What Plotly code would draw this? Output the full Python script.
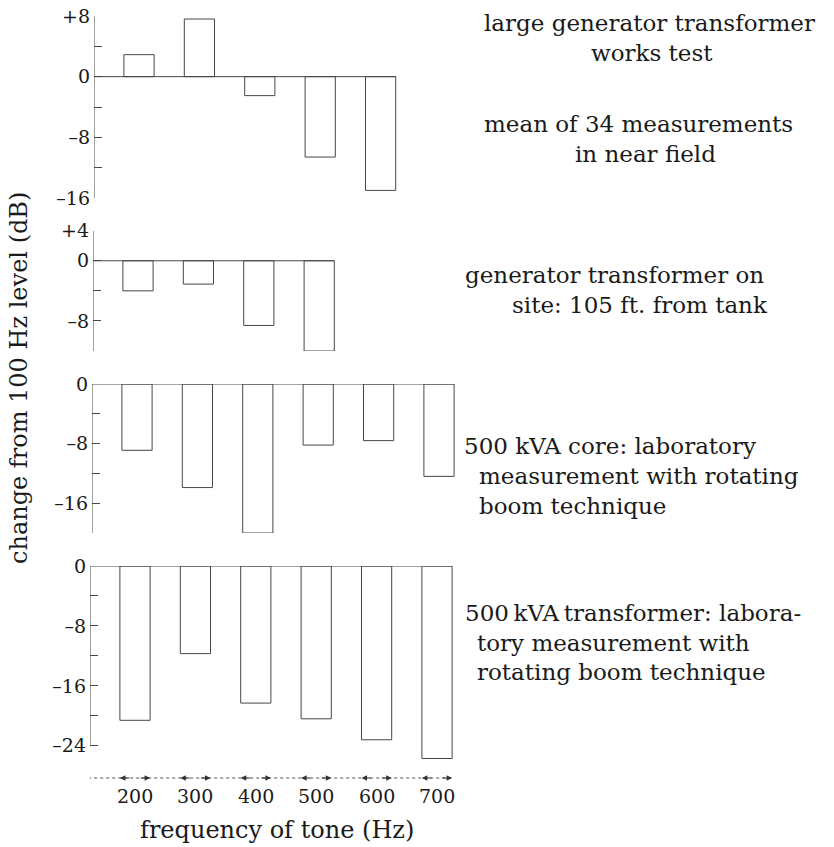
import plotly.graph_objects as go

# Tone frequencies and their labels (Hz)
freqs = [200, 300, 400, 500, 600, 700]
freq_labels = ["200", "300", "400", "500", "600", "700"]

# Change from the 100 Hz level (dB) for each test
works_test = [2.9, 7.6, -2.5, -10.6, -15.0]            # 200-600 Hz
on_site = [-4.0, -3.1, -8.6, -12.0]                    # 200-500 Hz
core_lab = [-8.9, -13.9, -20.0, -8.2, -7.6, -12.4]
transformer_lab = [-20.6, -11.7, -18.3, -20.4, -23.2, -25.7]

# Labelled values on each panel's dB scale (ticks every 4 dB)
labels_1 = [8, 0, -8, -16]
labels_2 = [4, 0, -8]
labels_3 = [0, -8, -16]
labels_4 = [0, -8, -16, -24]

# Caption lines beside each panel
captions_1 = ["large generator transformer", "works test"]
captions_2 = ["mean of 34 measurements", "in near field"]
captions_3 = ["generator transformer on", "site: 105 ft. from tank"]
captions_4 = ["500 kVA core: laboratory", "measurement with rotating", "boom technique"]
captions_5 = ["500\u2009kVA\u2009transformer: labora-", "tory measurement with", "rotating boom technique"]

y_title = "change from 100 Hz level (dB)"
x_title = "frequency of tone (Hz)"

# ---------------------------------------------------------------- layout helpers
W, H = 834, 847
FONT = "DejaVu Serif"
INK = "#1a1a1a"
LINE = "#474747"


def px(x):
    return x / W


def py(y):
    return 1 - y / H


PX_PER_HZ = 0.604
X_MIN = 125.5
PLOT_W = 370
X_MAX = X_MIN + PLOT_W / PX_PER_HZ
BAR_W = 50

# spine: extent of each value axis; view: extent kept visible
panels = [
    dict(values=works_test, labels=labels_1, spine=(-16, 8), view=(-16, 8), top=16, bottom=198, left=94),
    dict(values=on_site, labels=labels_2, spine=(-12, 4), view=(-12, 4), top=230.7, bottom=351, left=93),
    dict(values=core_lab, labels=labels_3, spine=(-20, 0), view=(-20, 0), top=384, bottom=533, left=92),
    dict(values=transformer_lab, labels=labels_4, spine=(-24, 0), view=(-26.5, 0), top=566, bottom=764.5, left=90),
]


def tick_text(v, labelled):
    if v not in labelled:
        return ""
    if v > 0:
        return f"+{v}"
    if v < 0:
        return f"\u2013{abs(v)}"
    return "0"


fig = go.Figure()
layout = dict(
    width=W, height=H, autosize=False,
    margin=dict(l=0, r=0, t=0, b=0, pad=0, autoexpand=False),
    paper_bgcolor="white", plot_bgcolor="rgba(0,0,0,0)",
    showlegend=False,
    font=dict(family=FONT, color=INK),
)

for i, p in enumerate(panels, start=1):
    xs = freqs[: len(p["values"])]
    xa = "x" if i == 1 else f"x{i}"
    ya = "y" if i == 1 else f"y{i}"
    lo, hi = p["spine"]
    fig.add_trace(go.Bar(
        x=xs, y=p["values"], width=BAR_W, base=0,
        marker=dict(color="white", line=dict(color=LINE, width=1)),
        xaxis=xa, yaxis=ya, hoverinfo="skip",
    ))
    # zero reference running out to the last bar
    fig.add_trace(go.Scatter(
        x=[X_MIN, max(xs) + BAR_W / 2], y=[0, 0], mode="lines",
        line=dict(color=LINE, width=1), xaxis=xa, yaxis=ya,
        hoverinfo="skip", cliponaxis=False,
    ))
    # value-axis spine
    fig.add_trace(go.Scatter(
        x=[X_MIN, X_MIN], y=[lo, hi], mode="lines",
        line=dict(color=LINE, width=1), xaxis=xa, yaxis=ya,
        hoverinfo="skip", cliponaxis=False,
    ))
    vals = list(range(lo, hi + 1, 4))
    left = p["left"]
    layout[f"xaxis{'' if i == 1 else i}"] = dict(
        domain=[px(left), px(left + PLOT_W)], range=[X_MIN, X_MAX],
        visible=False, anchor=ya, automargin=False,
    )
    layout[f"yaxis{'' if i == 1 else i}"] = dict(
        domain=[py(p["bottom"]), py(p["top"])], range=list(p["view"]),
        anchor=xa, showline=False, automargin=False,
        ticks="inside", ticklen=8, tickcolor=LINE, tickwidth=1,
        tickvals=vals, ticktext=[tick_text(v, p["labels"]) for v in vals],
        tickfont=dict(family=FONT, size=19, color=INK), ticklabelstandoff=3,
        showgrid=False, zeroline=False,
    )

fig.update_layout(**layout)

annotations = []
shapes = []

# frequency scale beneath the panels: dotted rule with band arrows
AXIS_Y = 778
shapes.append(dict(
    type="line", xref="x4", yref="paper",
    x0=X_MIN - 3, x1=max(freqs) + BAR_W / 2, y0=py(AXIS_Y), y1=py(AXIS_Y),
    line=dict(color="#555", width=1, dash="dot"),
))
for f, lab in zip(freqs, freq_labels):
    for head, tail in ((f - BAR_W / 2, 11), (f + BAR_W / 2, -11)):
        annotations.append(dict(
            x=head, y=py(AXIS_Y), xref="x4", yref="paper",
            ax=tail, ay=0, showarrow=True, arrowhead=2, arrowsize=1.1,
            arrowwidth=1, arrowcolor="#333", text="",
        ))
    annotations.append(dict(
        x=f, y=py(796), xref="x4", yref="paper", text=lab, showarrow=False,
        font=dict(family=FONT, size=19, color=INK), xanchor="center", yanchor="middle",
    ))

annotations.append(dict(
    x=px(277), y=py(830), xref="paper", yref="paper", text=x_title, showarrow=False,
    font=dict(family=FONT, size=24, color=INK), xanchor="center", yanchor="middle",
))
annotations.append(dict(
    x=px(19), y=py(378), xref="paper", yref="paper", text=y_title, showarrow=False,
    textangle=-90, font=dict(family=FONT, size=24, color=INK),
    xanchor="center", yanchor="middle",
))

# captions: (lines, left edges, vertical centres)
caption_blocks = [
    (captions_1, [482, 589], [23, 53]),
    (captions_2, [482, 573], [124, 154]),
    (captions_3, [463, 510], [275, 305]),
    (captions_4, [462, 477, 477], [446, 476, 506]),
    (captions_5, [463, 475, 475], [613, 643, 672]),
]
for lines, lefts, centres in caption_blocks:
    for txt, lx, cy in zip(lines, lefts, centres):
        annotations.append(dict(
            x=px(lx), y=py(cy), xref="paper", yref="paper", text=txt,
            showarrow=False, xanchor="left", yanchor="middle",
            font=dict(family=FONT, size=23, color=INK),
        ))

fig.update_layout(annotations=annotations, shapes=shapes)
fig.write_html("out.html")
